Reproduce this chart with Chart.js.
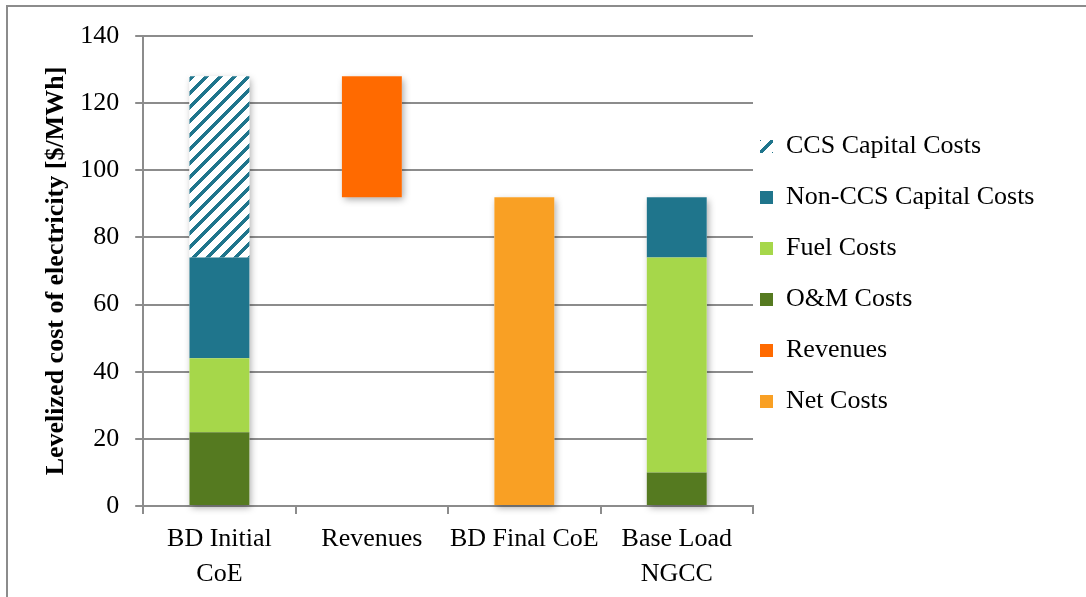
<!DOCTYPE html>
<html>
<head>
<meta charset="utf-8">
<script src="https://cdn.jsdelivr.net/npm/chart.js@4"></script>
<style>
  html, body { margin: 0; padding: 0; background: #fff; overflow: hidden; }
  #wrap { position: relative; width: 1086px; height: 597px; overflow: hidden; }
  #frame { position: absolute; left: 6px; top: 5px; right: -10px; bottom: -10px;
           border-top: 2px solid #8c8c8c; border-left: 2px solid #8c8c8c; }
  canvas { position: absolute; left: 0; top: 0; }
</style>
</head>
<body>
<div id="wrap">
  <div id="frame"></div>
  <canvas id="coe" width="1086" height="597"></canvas>
</div>
<script>
// Levelized cost of electricity components, $/MWh
const categories = [['BD Initial', 'CoE'], 'Revenues', 'BD Final CoE', ['Base Load', 'NGCC']];
const omCosts = [22, null, null, 10];
const fuelCosts = [22, null, null, 64];
const nonCcsCapitalCosts = [30, null, null, 18];
const ccsCapitalCosts = [54, null, null, null];
const revenues = [null, [92, 128], null, null];
const netCosts = [null, null, 92, null];
const yMin = 0;
const yMax = 140;
const yStep = 20;

const FONT = 'Liberation Serif, Times New Roman, serif';
const GRID = '#8c8c8c';

// Upward diagonal stripes on white, pixel-crisp
function stripePattern(color) {
  const size = 14, band = 5;
  const c = document.createElement('canvas');
  c.width = size; c.height = size;
  const g = c.getContext('2d');
  g.fillStyle = '#fff';
  g.fillRect(0, 0, size, size);
  g.fillStyle = color;
  for (let y = 0; y < size; y++) {
    for (let x = 0; x < size; x++) {
      if ((x + y) % size < band) g.fillRect(x, y, 1, 1);
    }
  }
  return g.createPattern(c, 'repeat');
}

// Soft drop shadow behind each whole stacked column
const columnShadow = {
  id: 'columnShadow',
  beforeDatasetsDraw(chart) {
    const cols = {};
    chart.data.datasets.forEach((ds, di) => {
      const meta = chart.getDatasetMeta(di);
      meta.data.forEach((bar, i) => {
        if (ds.data[i] === null || ds.data[i] === undefined) return;
        const p = bar.getProps(['x', 'y', 'base', 'width'], true);
        const c = cols[i] || (cols[i] = { l: p.x - p.width / 2, r: p.x + p.width / 2, t: Infinity, b: -Infinity });
        c.t = Math.min(c.t, p.y, p.base);
        c.b = Math.max(c.b, p.y, p.base);
      });
    });
    const ctx = chart.ctx;
    ctx.save();
    ctx.shadowColor = 'rgba(0,0,0,0.35)';
    ctx.shadowBlur = 7;
    ctx.shadowOffsetX = 2;
    ctx.shadowOffsetY = 3;
    ctx.fillStyle = '#fff';
    Object.values(cols).forEach(c => ctx.fillRect(c.l, c.t, c.r - c.l, c.b - c.t));
    ctx.restore();
  }
};

// Nudge the legend entries closer to the plot
const LEGEND_DX = -18;
const LEGEND_DY = 3;
const legendNudge = {
  id: 'legendNudge',
  afterLayout(chart) {
    const lg = chart.legend;
    if (!lg) return;
    lg.left += LEGEND_DX;
    lg.top += LEGEND_DY; lg.bottom += LEGEND_DY;
  }
};

// Legend lists capital costs first, then fuel, O&M, revenues, net costs
const legendOrder = [3, 2, 1, 0, 4, 5];

const barStyle = { barPercentage: 0.393, categoryPercentage: 1, borderWidth: 0 };

new Chart(document.getElementById('coe'), {
  type: 'bar',
  data: {
    labels: categories,
    datasets: [
      { label: 'O&M Costs', data: omCosts, backgroundColor: '#557a20', ...barStyle },
      { label: 'Fuel Costs', data: fuelCosts, backgroundColor: '#a6d74a', ...barStyle },
      { label: 'Non-CCS Capital Costs', data: nonCcsCapitalCosts, backgroundColor: '#1f758c', ...barStyle },
      { label: 'CCS Capital Costs', data: ccsCapitalCosts, backgroundColor: stripePattern('#1f758c'), ...barStyle },
      { label: 'Revenues', data: revenues, backgroundColor: '#ff6a00', ...barStyle },
      { label: 'Net Costs', data: netCosts, backgroundColor: '#f9a024', ...barStyle }
    ]
  },
  options: {
    responsive: false,
    animation: false,
    devicePixelRatio: 1,
    layout: { padding: { left: 37, right: 30, top: 36, bottom: -3 } },
    plugins: {
      tooltip: { enabled: false },
      legend: {
        position: 'right',
        fullSize: false,
        maxWidth: 303,
        labels: {
          boxWidth: 13,
          boxHeight: 13,
          padding: 25,
          color: '#000',
          font: { family: FONT, size: 26 },
          sort: (a, b) => legendOrder.indexOf(a.datasetIndex) - legendOrder.indexOf(b.datasetIndex)
        }
      }
    },
    scales: {
      x: {
        stacked: true,
        grid: { offset: true, drawOnChartArea: false, drawTicks: true, tickLength: 8, color: GRID, lineWidth: 2 },
        border: { color: GRID, width: 2 },
        ticks: {
          color: '#000',
          padding: 8,
          maxRotation: 0,
          autoSkip: false,
          font: { family: FONT, size: 26, lineHeight: 1.346 }
        }
      },
      y: {
        stacked: true,
        min: yMin,
        max: yMax,
        ticks: { stepSize: yStep, padding: 16, color: '#000', font: { family: FONT, size: 26 } },
        grid: { color: GRID, lineWidth: 2, tickLength: 8 },
        border: { color: GRID, width: 2 },
        title: {
          display: true,
          text: 'Levelized cost of electricity [$/MWh]',
          color: '#000',
          font: { family: FONT, size: 26, weight: 'bold' },
          padding: { top: 4, bottom: -8 }
        }
      }
    }
  },
  plugins: [columnShadow, legendNudge]
});
</script>
</body>
</html>
